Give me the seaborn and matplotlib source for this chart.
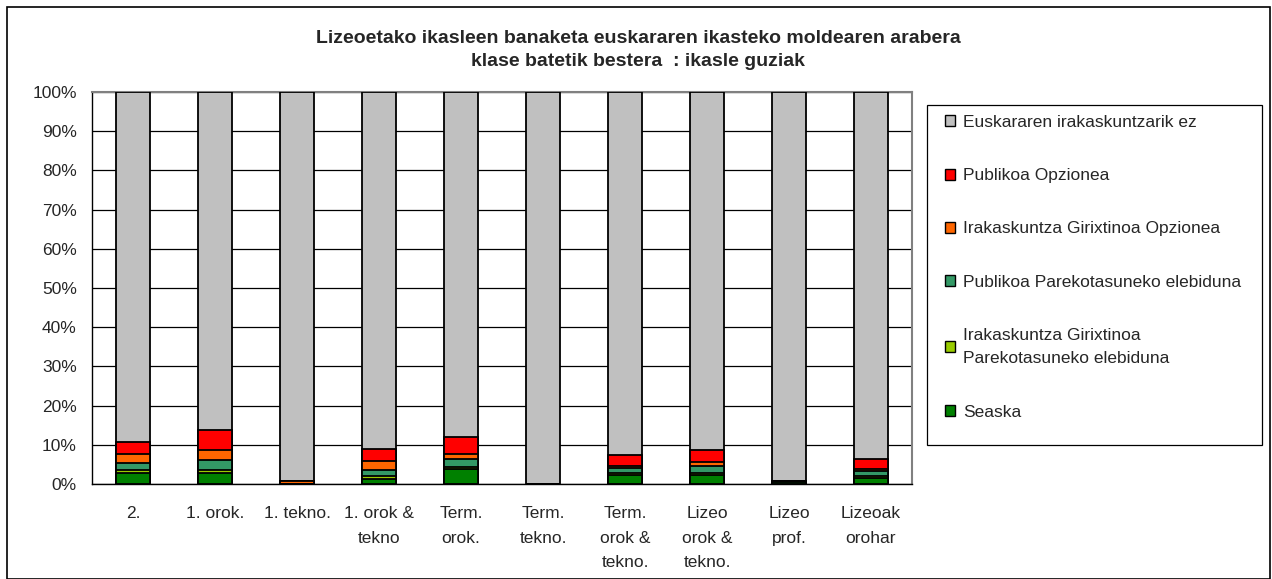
import numpy as np
import pandas as pd
import matplotlib
matplotlib.use("Agg")
import matplotlib.pyplot as plt
import seaborn as sns
from matplotlib.patches import Rectangle, Patch

categories = ["2.", "1. orok.", "1. tekno.", "1. orok &\ntekno", "Term.\norok.",
              "Term.\ntekno.", "Term.\norok &\ntekno.", "Lizeo\norok &\ntekno.",
              "Lizeo\nprof.", "Lizeoak\norohar"]

seaska = [2.9, 2.9, 0.0, 1.4, 3.8, 0.0, 2.3, 2.3, 0.4, 1.5]
irak_gir_parek = [0.6, 0.6, 0.0, 0.6, 0.5, 0.0, 0.4, 0.6, 0.3, 0.5]
publ_parek = [1.9, 2.7, 0.0, 1.6, 2.0, 0.0, 1.4, 1.6, 0.1, 1.3]
irak_gir_opz = [2.2, 2.6, 0.8, 2.2, 1.4, 0.0, 0.4, 1.2, 0.0, 0.6]
publ_opz = [3.0, 4.9, 0.0, 3.1, 4.4, 0.0, 2.9, 2.9, 0.0, 2.4]

series_names = ["Seaska", "Irakaskuntza Girixtinoa\nParekotasuneko elebiduna",
                "Publikoa Parekotasuneko elebiduna", "Irakaskuntza Girixtinoa Opzionea",
                "Publikoa Opzionea", "Euskararen irakaskuntzarik ez"]
series_colors = ["#008000", "#99CC00", "#339966", "#FF6600", "#FF0000", "#C0C0C0"]

title = "Lizeoetako ikasleen banaketa euskararen ikasteko moldearen arabera\nklase batetik bestera  : ikasle guziak"

sns.set_theme(style="white")
plt.rcParams["font.family"] = ["Liberation Sans", "DejaVu Sans"]

FS = 12.5

stack = np.array([seaska, irak_gir_parek, publ_parek, irak_gir_opz, publ_opz])
rest = 100 - stack.sum(axis=0)
stack = np.vstack([stack, rest])
cum = np.cumsum(stack, axis=0)

fig = plt.figure(figsize=(12.72, 5.79), dpi=100)
W, H = 1272, 579
ax = fig.add_axes([92 / W, 1 - 484 / H, (912 - 92) / W, (484 - 92) / H])

# draw from the top of the stack downwards so each layer overlays the previous
for i in range(len(series_names) - 1, -1, -1):
    df = pd.DataFrame({"cat": categories, "val": cum[i]})
    sns.barplot(data=df, x="cat", y="val", color=series_colors[i], saturation=1,
                width=0.415, edgecolor="black", linewidth=1.3, ax=ax, zorder=3)

ax.set_ylim(0, 100)
ax.set_xlim(-0.5, len(categories) - 0.5)
ax.set_yticks(np.arange(0, 101, 10))
ax.set_yticklabels([f"{v}%" for v in range(0, 101, 10)], fontsize=FS)
ax.yaxis.grid(True, color="black", linewidth=0.9, zorder=0)
ax.set_axisbelow(True)
ax.set_xlabel("")
ax.set_ylabel("")

ax.set_xticks(np.arange(len(categories)))
ax.set_xticklabels(categories, fontsize=FS, linespacing=1.79)
ax.set_xticks(np.arange(-0.5, len(categories), 1), minor=True)
ax.tick_params(axis="x", which="major", length=0, pad=16)
ax.tick_params(axis="x", which="minor", length=5, width=0.9, color="black", direction="out")
ax.tick_params(axis="y", which="major", length=5, width=0.9, color="black", direction="out", pad=6)

for s in ["left", "bottom"]:
    ax.spines[s].set_color("black")
    ax.spines[s].set_linewidth(1.0)
for s in ["top", "right"]:
    ax.spines[s].set_color("#808080")
    ax.spines[s].set_linewidth(1.5)
ax.spines["bottom"].set_zorder(5)

fig.text(638 / W, 1 - 50 / H, title, ha="center", va="center", fontsize=14,
         fontweight="bold", linespacing=1.42)

# legend frame
fig.patches.append(Rectangle((927 / W, 1 - 445 / H), (1262 - 927) / W, (445 - 105) / H,
                             transform=fig.transFigure, fill=True, facecolor="white",
                             edgecolor="black", linewidth=0.9, zorder=1))

handles = [Patch(facecolor=series_colors[i], edgecolor="black", linewidth=1.0)
           for i in range(len(series_names) - 1, -1, -1)]
labels = [series_names[i] for i in range(len(series_names) - 1, -1, -1)]
leg = fig.legend(handles, labels, loc="upper left",
                 bbox_to_anchor=(945 / W, 1 - 115 / H), bbox_transform=fig.transFigure,
                 fontsize=FS, frameon=False,
                 handlelength=0.6, handleheight=0.6, handletextpad=0.46,
                 labelspacing=2.2, borderpad=0, borderaxespad=0)
leg.set_zorder(2)
for t in leg.get_texts():
    t.set_linespacing(1.72)

fig.patches.append(Rectangle((7 / W, 0), (1270 - 7) / W, 1 - 7 / H,
                             transform=fig.transFigure, fill=False,
                             edgecolor="black", linewidth=1.2))

fig.savefig("out.png", dpi=100)
